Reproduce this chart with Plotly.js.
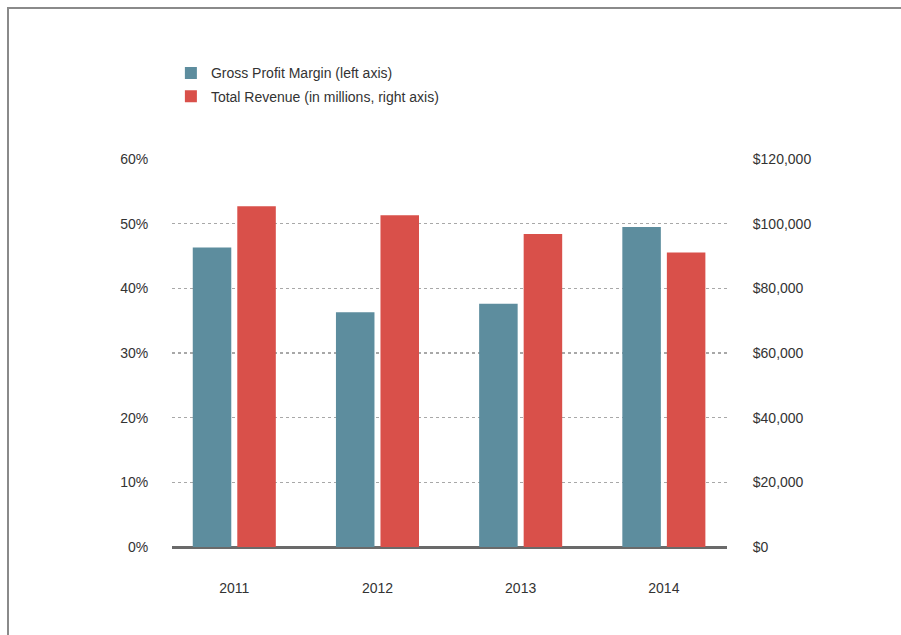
<!DOCTYPE html>
<html>
<head>
<meta charset="utf-8">
<script src="https://cdn.plot.ly/plotly-3.0.1.min.js"></script>
<style>
  html, body { margin: 0; padding: 0; background: #fff; }
  #frame { position: absolute; left: 7px; top: 7px; width: 1000px; height: 700px;
           border-top: 2px solid #8a8a8a; border-left: 2px solid #8a8a8a; pointer-events: none; }
  #chart { width: 901px; height: 635px; }
</style>
</head>
<body>
<div id="chart"></div>
<div id="frame"></div>
<script>
const years = ['2011', '2012', '2013', '2014'];
const grossMargin = [46.3, 36.3, 37.6, 49.5];          // %
const totalRevenue = [105400, 102600, 96800, 91100];   // $ millions
const marginName = 'Gross Profit Margin (left axis)';
const revenueName = 'Total Revenue (in millions, right axis)';
const leftTicks = [0, 10, 20, 30, 40, 50, 60];
const leftTickText = ['0%', '10%', '20%', '30%', '40%', '50%', '60%'];
const rightTicks = [0, 20000, 40000, 60000, 80000, 100000, 120000];
const rightTickText = ['$0', '$20,000', '$40,000', '$60,000', '$80,000', '$100,000', '$120,000'];

const FONT = "'Liberation Sans', Arial, sans-serif";
const TXT = '#333333';

const traces = [
  {
    type: 'bar', x: years, y: grossMargin, name: marginName,
    yaxis: 'y', offsetgroup: '1', legendgroup: 'a',
    marker: { color: '#5d8d9e' }, hoverinfo: 'skip'
  },
  {
    type: 'bar', x: years, y: totalRevenue, name: revenueName,
    yaxis: 'y2', offsetgroup: '2', legendgroup: 'b',
    marker: { color: '#d9504a' }, hoverinfo: 'skip'
  }
];

const layout = {
  width: 901, height: 635,
  margin: { l: 172, r: 174, t: 159, b: 88 },
  paper_bgcolor: '#ffffff', plot_bgcolor: '#ffffff',
  font: { family: FONT, size: 14, color: TXT },
  barmode: 'group', bargap: 0.378, bargroupgap: 0.135,
  showlegend: true,
  legend: {
    x: -0.002, xanchor: 'left', y: 1.262, yanchor: 'top',
    orientation: 'v', traceorder: 'grouped', tracegroupgap: 2,
    itemwidth: 30,
    font: { family: FONT, size: 14, color: TXT }, bgcolor: 'rgba(0,0,0,0)'
  },
  xaxis: {
    type: 'category', range: [-0.435, 3.441],
    showgrid: false, zeroline: false, showline: false,
    ticks: 'outside', ticklen: 28, tickcolor: 'rgba(0,0,0,0)',
    tickfont: { family: FONT, size: 14, color: TXT }
  },
  yaxis: {
    range: [0, 60], tickmode: 'array', tickvals: leftTicks, ticktext: leftTickText,
    showgrid: true, gridcolor: '#a8a8a8', gridwidth: 1.5, griddash: 'dot',
    zeroline: true, zerolinecolor: '#6a6a6a', zerolinewidth: 3,
    showline: false, ticks: 'outside', ticklen: 20, tickcolor: 'rgba(0,0,0,0)',
    tickfont: { family: FONT, size: 14, color: TXT }
  },
  yaxis2: {
    range: [0, 120000], tickmode: 'array', tickvals: rightTicks, ticktext: rightTickText,
    overlaying: 'y', side: 'right', showgrid: false, zeroline: false, showline: false,
    ticks: 'outside', ticklen: 22, tickcolor: 'rgba(0,0,0,0)',
    tickfont: { family: FONT, size: 14, color: TXT }
  }
};

Plotly.newPlot('chart', traces, layout, { displayModeBar: false, staticPlot: true });
</script>
</body>
</html>
